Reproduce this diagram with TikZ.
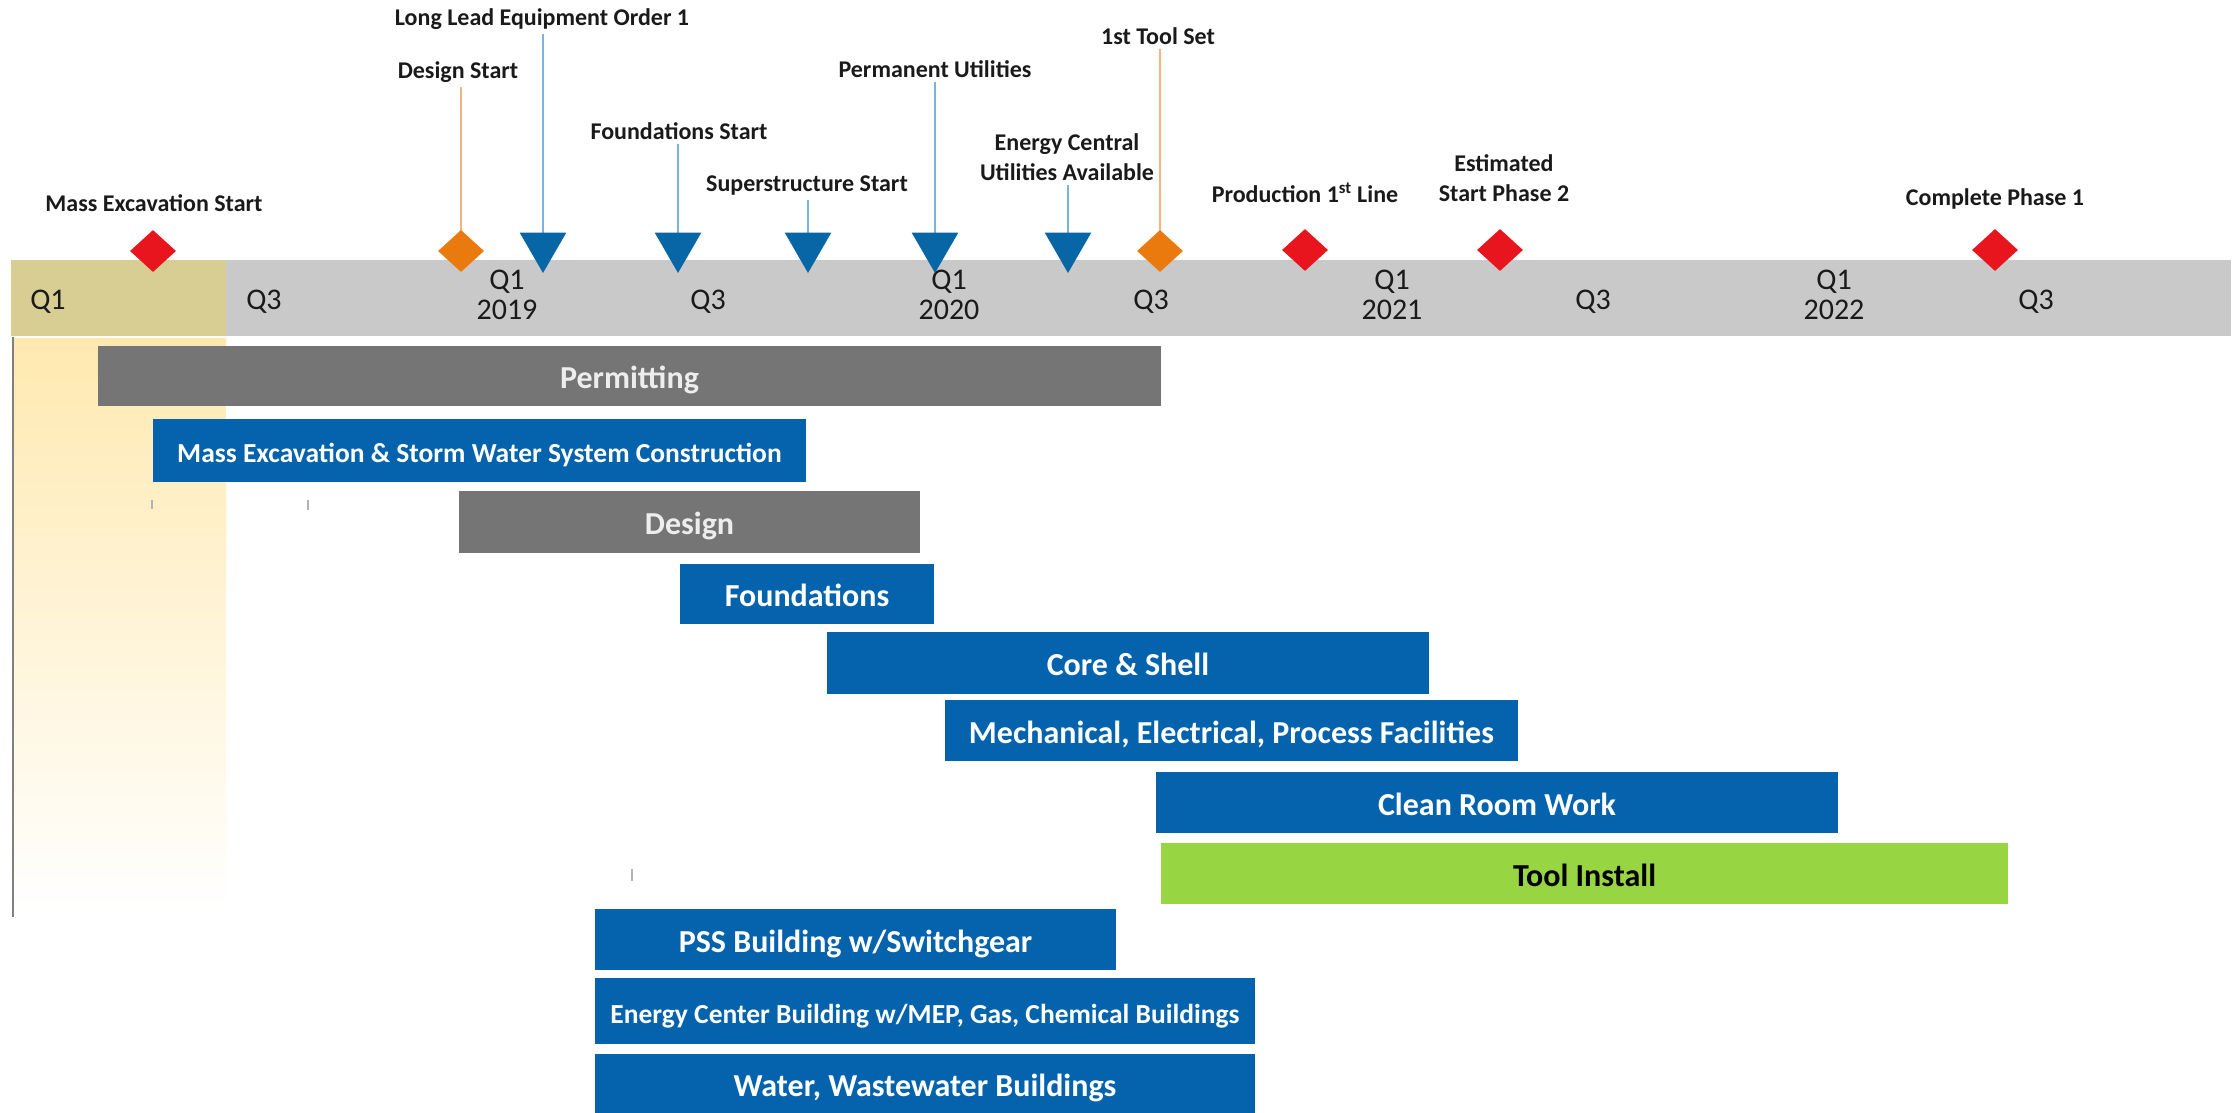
\documentclass[tikz,border=0pt]{standalone}
\usepackage{fontspec}
\setmainfont{Carlito}
\usetikzlibrary{shapes.geometric}
\definecolor{bandgrey}{HTML}{C9C9C9}
\definecolor{bandtan}{HTML}{D8CD93}
\definecolor{bargrey}{HTML}{757575}
\definecolor{barblue}{HTML}{0563AD}
\definecolor{triblue}{HTML}{0766A6}
\definecolor{lineblue}{HTML}{7AB4DC}
\definecolor{lineorange}{HTML}{F5B47E}
\definecolor{msorange}{HTML}{EA7A0E}
\definecolor{msred}{HTML}{E8151F}
\definecolor{bargreen}{HTML}{98D543}
\definecolor{paleyellow}{HTML}{FFE9B0}
\definecolor{txt}{HTML}{1A1A1A}
\newcommand\ganttbar[7]{%
  \node[#6, minimum width={(#4-#2)*1pt}, minimum height={(#5-#3)*1pt}] (#1) at (#2,#3) {#7};}
\begin{document}
\begin{tikzpicture}[x=1pt,y=-1pt,
  barbox/.style={anchor=north west, inner sep=0pt, outer sep=0pt, text=white,
    text height=29pt, text depth=4pt,
    font=\bfseries\fontsize{32}{36}\selectfont},
  greybar/.style={barbox, fill=bargrey, text=white!93!black},
  bluebar/.style={barbox, fill=barblue},
  greenbar/.style={barbox, fill=bargreen, text=black},
  smalltext/.style={font=\bfseries\fontsize{27.5}{30}\selectfont, text height=27pt, text depth=3pt},
  lbl/.style={inner sep=4pt, text=txt, align=center,
    font=\bfseries\fontsize{24}{30}\selectfont},
  qlbl/.style={inner sep=0pt, text=txt, align=center,
    font=\fontsize{30}{30}\selectfont},
  tri/.style={regular polygon, regular polygon sides=3, shape border rotate=180,
    minimum size=54pt, inner sep=0pt, fill=triblue},
  dia/.style={diamond, minimum width=46pt, minimum height=42pt, inner sep=0pt},
  redd/.style={dia, fill=msred},
  orad/.style={dia, fill=msorange},
  bline/.style={lineblue, line width=2pt},
  oline/.style={lineorange, line width=2pt},
  tickmark/.style={black!30, line width=1.5pt}]
\useasboundingbox (0,0) rectangle (2236,1113);

% highlight column
\shade[top color=paleyellow, bottom color=white] (14,338) rectangle (226,915);
\draw[black!50, line width=2pt] (13,337) -- (13,917);

% timeline band
\node[anchor=north west, fill=bandgrey, inner sep=0pt, minimum width=2220pt, minimum height=76pt] (band) at (11,260) {};
\node[anchor=north west, fill=bandtan, inner sep=0pt, minimum width=215pt, minimum height=76pt] (tanq) at (11,260) {};

\node[qlbl] (q1a) at (48,302) {Q1};
\node[qlbl] (q3a) at (264,302) {Q3};
\node[qlbl] (y19) at (507,295) {Q1\\2019};
\node[qlbl] (q3b) at (708,302) {Q3};
\node[qlbl] (y20) at (949,295) {Q1\\2020};
\node[qlbl] (q3c) at (1151,302) {Q3};
\node[qlbl] (y21) at (1392,295) {Q1\\2021};
\node[qlbl] (q3d) at (1593,302) {Q3};
\node[qlbl] (y22) at (1834,295) {Q1\\2022};
\node[qlbl] (q3e) at (2036,302) {Q3};

% milestone labels
\node[lbl] (lmex) at (154,203) {Mass Excavation Start};
\node[lbl] (ldes) at (458,72) {Design Start};
\node[lbl] (lll) at (542,19) {Long Lead Equipment Order 1};
\node[lbl] (lfnd) at (679,131) {Foundations Start};
\node[lbl] (lsup) at (807,186) {Superstructure Start};
\node[lbl] (lpu) at (935,69) {Permanent Utilities};
\node[lbl] (lec) at (1067,157) {Energy Central\\Utilities Available};
\node[lbl] (lts) at (1158,36) {1st Tool Set};
\node[lbl] (lprod) at (1305,193) {Production 1\textsuperscript{st} Line};
\node[lbl] (lest) at (1504,178) {Estimated\\Start Phase 2};
\node[lbl] (lcp) at (1995,199) {Complete Phase 1};

% connectors
\draw[oline] (461,251) coordinate (cdes) (cdes |- ldes.south) -- (cdes);
\draw[bline] (543,246) coordinate (cll) (cll |- lll.south) -- (cll);
\draw[bline] (678,246) coordinate (cfnd) (cfnd |- lfnd.south) -- (cfnd);
\draw[bline] (808,246) coordinate (csup) (csup |- lsup.south) -- (csup);
\draw[bline] (935,246) coordinate (cpu) (cpu |- lpu.south) -- (cpu);
\draw[bline] (1068,246) coordinate (cec) (cec |- lec.south) -- (cec);
\draw[oline] (1160,251) coordinate (cts) (cts |- lts.south) -- (cts);

% milestone markers
\node[redd] (dmex) at (153,251) {};
\node[orad] (ddes) at (cdes) {};
\node[tri] (tll) at (cll) {};
\node[tri] (tfnd) at (cfnd) {};
\node[tri] (tsup) at (csup) {};
\node[tri] (tpu) at (cpu) {};
\node[tri] (tec) at (cec) {};
\node[orad] (dts) at (cts) {};
\node[redd] (dprod) at (1305,250) {};
\node[redd] (dest) at (1500,250) {};
\node[redd] (dcp) at (1995,250) {};

% gantt bars
\ganttbar{permit}{98}{346}{1161}{406}{greybar}{Permitting}
\ganttbar{massx}{153}{419}{806}{482}{bluebar,smalltext}{Mass Excavation \& Storm Water System Construction}
\ganttbar{design}{459}{491}{920}{553}{greybar}{Design}
\ganttbar{found}{680}{564}{934}{624}{bluebar}{Foundations}
\ganttbar{core}{827}{632}{1429}{694}{bluebar}{Core \& Shell}
\ganttbar{mech}{945}{700}{1518}{761}{bluebar}{Mechanical, Electrical, Process Facilities}
\ganttbar{clean}{1156}{772}{1838}{833}{bluebar}{Clean Room Work}
\ganttbar{tool}{1161}{843}{2008}{904}{greenbar}{Tool Install}
\ganttbar{pss}{595}{909}{1116}{970}{bluebar}{PSS Building w/Switchgear}
\ganttbar{energy}{595}{978}{1255}{1044}{bluebar,smalltext}{Energy Center Building w/MEP, Gas, Chemical Buildings}
\ganttbar{water}{595}{1054}{1255}{1113}{bluebar}{Water, Wastewater Buildings}

% small ticks
\draw[tickmark] (152,500) -- (152,509);
\draw[tickmark] (308,500) -- (308,510);
\draw[tickmark] (632,869) -- (632,881);
\end{tikzpicture}
\end{document}
